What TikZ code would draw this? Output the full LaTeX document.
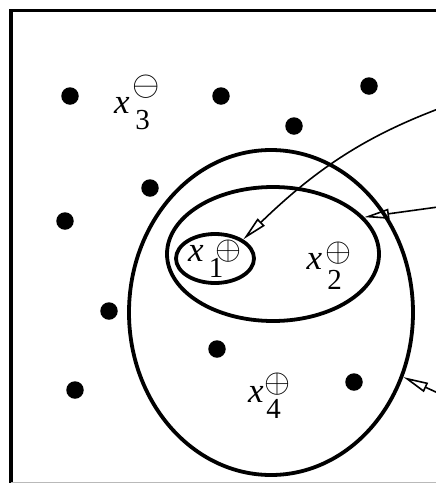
\RequirePackage{fix-cm}
\documentclass[tikz,border=0pt]{standalone}
\usepackage{graphicx}
\usepackage{fontspec}
\setmainfont{Liberation Serif}
\usetikzlibrary{arrows.meta,shapes.geometric}
\newcommand{\bigsym}[2][19.5pt]{\resizebox{!}{#1}{$#2$}}
\begin{document}
\begin{tikzpicture}[x=1pt,y=-1pt,
  dot/.style={circle,fill=black,inner sep=0pt,minimum size=17.5pt},
  ring/.style={ellipse,draw=black,line width=3.8pt,inner sep=0pt},
  pointer/.style={line width=1.6pt,-{Triangle[open,length=25pt,width=10pt]}},
  xlet/.style={inner sep=0pt,font=\fontsize{35}{35}\selectfont\itshape},
  subtxt/.style={inner sep=0pt,font=\fontsize{29}{29}\selectfont},
  suptxt/.style={inner sep=0pt}]
\useasboundingbox (0,0) rectangle (436,483);
\fill[white] (0,0) rectangle (436,483);
% frame
\draw[line width=3.5pt] (11,484) -- (11,10.5) -- (437,10.5);
\draw[gray!55,line width=0.8pt] (11,482.5) -- (437,482.5);
% dots
\node[dot] (d1) at (70,96) {};
\node[dot] (d2) at (221,96) {};
\node[dot] (d3) at (369,86) {};
\node[dot] (d4) at (294,126) {};
\node[dot] (d5) at (150,188) {};
\node[dot] (d6) at (65,221) {};
\node[dot] (d7) at (109,311) {};
\node[dot] (d8) at (217,349) {};
\node[dot] (d9) at (75,390) {};
\node[dot] (d10) at (354,382) {};
% sets
\node[ring,minimum width=284pt,minimum height=325pt] (outer) at (271,312.5) {};
\node[ring,minimum width=212pt,minimum height=134pt] (middle) at (273,254) {};
\node[ring,minimum width=78pt,minimum height=49pt] (inner) at (215,258.5) {};
% labels
\node[xlet] (x3) at (122,105.5) {x};
\node[subtxt] (s3) at (142.5,120) {3};
\node[suptxt] (p3) at (146,87) {\bigsym[20.5pt]{\ominus}};
\node[xlet] (x1) at (196,253.5) {x};
\node[subtxt] (s1) at (216,267.5) {1};
\node[suptxt] (p1) at (229,251.5) {\bigsym{\oplus}};
\node[xlet] (x2) at (314.5,261.5) {x};
\node[subtxt] (s2) at (334.5,280) {2};
\node[suptxt] (p2) at (339,253.5) {\bigsym{\oplus}};
\node[xlet] (x4) at (256,394) {x};
\node[subtxt] (s4) at (273.5,409) {4};
\node[suptxt] (p4) at (277.5,384) {\bigsym{\oplus}};
% pointers
\coordinate (e1) at (438,109);
\coordinate (e2) at (438,207);
\coordinate (e3) at (438,393);
\draw[pointer] (e1) .. controls (370,135) and (320,165) .. (inner.34);
\draw[pointer] (e2) -- (middle.22);
\draw[pointer] (e3) -- (outer.-26);
\end{tikzpicture}
\end{document}
